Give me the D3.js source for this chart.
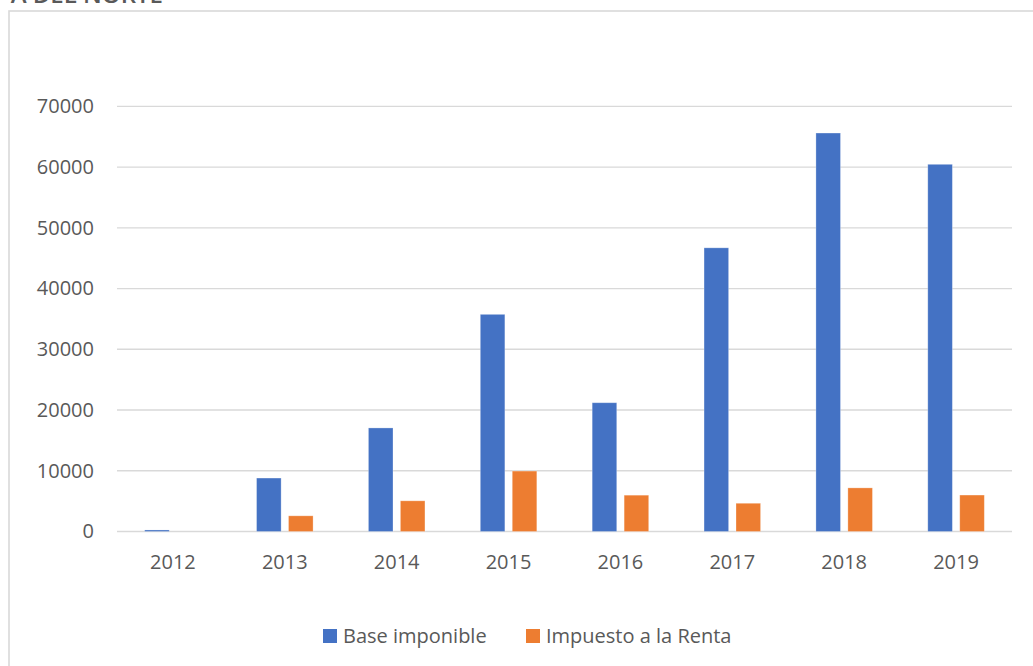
<!DOCTYPE html>
<html>
<head>
<meta charset="utf-8">
<script src="https://cdn.jsdelivr.net/npm/d3@7"></script>
<style>
  html, body { margin: 0; padding: 0; background: #ffffff; }
  svg { display: block; }
  text { font-family: "Open Sans", "Noto Sans", sans-serif; fill: #595959; }
</style>
</head>
<body>
<svg id="chart" width="1033" height="666"></svg>
<script>
// Years on the category axis
const years = ["2012", "2013", "2014", "2015", "2016", "2017", "2018", "2019"];
// Series names (legend order)
const seriesNames = ["Base imponible", "Impuesto a la Renta"];
// Series values per year
const baseImponible = [250, 8800, 17050, 35750, 21200, 46700, 65600, 60450];
const impuestoRenta = [0, 2580, 5050, 9950, 5980, 4650, 7180, 6000];
// Value axis ticks
const yTicks = [0, 10000, 20000, 30000, 40000, 50000, 60000, 70000];

const colors = ["#4472C4", "#ED7D31"];
const seriesValues = [baseImponible, impuestoRenta];

const svg = d3.select("#chart");

// Chart title, sitting against the top edge
svg.append("text")
  .attr("x", 163).attr("y", 3)
  .attr("text-anchor", "end")
  .style("font-size", "24px")
  .style("font-weight", "600")
  .text("A DEL NORTE");

// Chart frame
svg.append("rect")
  .attr("x", 9).attr("y", 11)
  .attr("width", 1100).attr("height", 700)
  .attr("fill", "none")
  .attr("stroke", "#d9d9d9")
  .attr("stroke-width", 1.6);

const x = d3.scaleBand().domain(years).range([117, 1012]).paddingInner(0).paddingOuter(0);
const xs = d3.scaleBand().domain(seriesNames).range([0, x.bandwidth()])
  .paddingInner(0.231).paddingOuter(0.866);
const y = d3.scaleLinear().domain([0, 70000]).range([531.5, 106.3]);

// Gridlines
svg.append("g")
  .selectAll("line")
  .data(yTicks)
  .join("line")
  .attr("x1", 117).attr("x2", 1012)
  .attr("y1", d => y(d)).attr("y2", d => y(d))
  .attr("stroke", "#d9d9d9")
  .attr("stroke-width", 1.3);

// Value axis labels
const yAxis = d3.axisLeft(y).tickValues(yTicks).tickFormat(d3.format("d")).tickSize(0).tickPadding(0);
const yg = svg.append("g").attr("transform", "translate(94,0)").call(yAxis);
yg.select(".domain").remove();
yg.selectAll("text")
  .style("font-size", "20px")
  .style("font-family", "'Open Sans', 'Noto Sans', sans-serif")
  .attr("fill", "#595959");

// Category axis labels
const xAxis = d3.axisBottom(x).tickSize(0).tickPadding(0);
const xg = svg.append("g").attr("transform", "translate(0,555)").call(xAxis);
xg.select(".domain").remove();
xg.selectAll("text")
  .attr("dy", "0.71em")
  .style("font-size", "20px")
  .style("font-family", "'Open Sans', 'Noto Sans', sans-serif")
  .attr("fill", "#595959");

// Bars
const groups = svg.append("g")
  .selectAll("g")
  .data(years)
  .join("g")
  .attr("transform", d => `translate(${x(d)},0)`);

groups.selectAll("rect")
  .data((d, i) => seriesNames.map((s, j) => ({ s, j, v: seriesValues[j][i] })))
  .join("rect")
  .filter(d => d.v > 0)
  .attr("x", d => xs(d.s))
  .attr("width", xs.bandwidth())
  .attr("y", d => y(d.v))
  .attr("height", d => y(0) - y(d.v))
  .attr("fill", d => colors[d.j])
  .attr("stroke", "#ffffff")
  .attr("stroke-opacity", 0.35)
  .attr("stroke-width", 0.8);

// Legend
const legendX = [323, 526];
const legend = svg.append("g")
  .selectAll("g")
  .data(seriesNames)
  .join("g")
  .attr("transform", (d, i) => `translate(${legendX[i]},629)`);
legend.append("rect")
  .attr("width", 14).attr("height", 14)
  .attr("fill", (d, i) => colors[i]);
legend.append("text")
  .attr("x", 20).attr("y", 7)
  .attr("dy", "0.35em")
  .style("font-size", "20px")
  .text(d => d);
</script>
</body>
</html>
